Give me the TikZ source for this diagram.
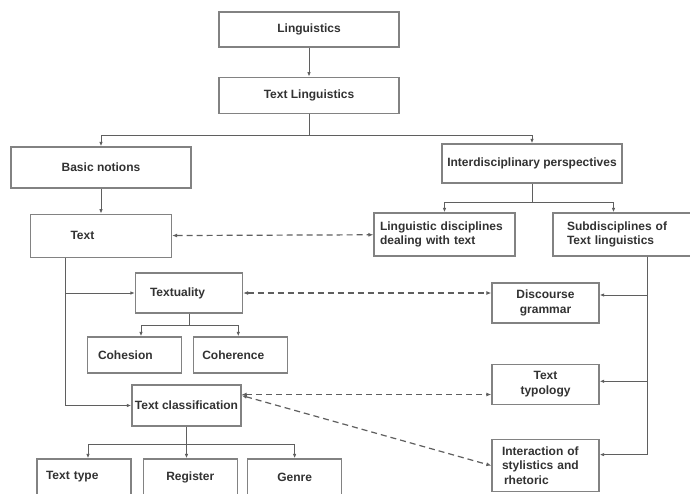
\documentclass[tikz,border=0pt]{standalone}
\usepackage{fontspec}
\setmainfont{Liberation Sans}
\usepackage{tikz}
\usetikzlibrary{arrows.meta,positioning,calc}
\definecolor{lnBox}{RGB}{130,130,130}
\definecolor{lnLine}{RGB}{95,95,95}
\definecolor{lnText}{RGB}{50,50,50}
\newcommand{\lnfont}{\fontsize{12pt}{14.5pt}\selectfont\bfseries}

\begin{document}
\begin{tikzpicture}[x=1pt, y=-1pt,
      box/.style={rectangle, draw=lnBox, line width=1.3pt, align=center,
        inner sep=3pt, font=\lnfont, text=lnText},
      lbox/.style 2 args={box, align=left, text width=#1, inner xsep=#2},
      widebox/.style={box, minimum width=180pt, minimum height=36pt},
      midbox/.style={box, minimum width=141pt, minimum height=43pt},
      smallbox/.style={box, minimum width=107pt, minimum height=40pt},
      tinybox/.style={box, minimum width=94pt, minimum height=36pt},
      arr/.style={-{Latex[length=4.5pt,width=3.5pt]}, draw=lnLine, line width=0.9pt},
      darr/.style={{Latex[length=5pt,width=4pt]}-{Latex[length=5pt,width=4pt]},
        draw=lnLine, line width=1.2pt, dash pattern=on 6pt off 4pt},
    ]
    \useasboundingbox (0,0) rectangle (690,493);
    \fill[white] (0,0) rectangle (690,493);
    \clip (0,0) rectangle (690,493);

    % ---- Top: Linguistics -> Text Linguistics ----
    \node[widebox, minimum height=35pt] (ling) at (309,29.5) {Linguistics};
    \node[widebox, below=29pt of ling] (tl) {Text Linguistics};
    \node[widebox, minimum height=41pt] (basic) at (101,167.5) {Basic notions};
    \node[widebox, minimum height=39pt] (inter) at (532,163.5)
      {Interdisciplinary perspectives};
    \coordinate[below=21pt of tl] (tlfork);

    \draw[arr] (ling) -- (tl);
    \draw[arr] (tl.south) -- (tlfork) -| (basic);
    \draw[arr] (tlfork) -| (inter);

    % ---- Left column: basic notions ----
    \node[midbox, lbox={61pt}{40pt}, below=25pt of basic] (text) {Text};
    \node[smallbox, lbox={78pt}{14pt}, minimum height=40pt] (textuality) at (189,293)
      {Textuality};
    \node[tinybox, lbox={73pt}{10pt}] (cohesion) at (134.5,355) {Cohesion};
    \node[tinybox, lbox={77pt}{8pt}, right=11pt of cohesion] (coherence) {Coherence};
    \node[smallbox, minimum width=109pt, minimum height=41pt] (tc) at (186.5,405.5)
      {Text classification};
    \node[tinybox, lbox={76pt}{9pt}] (texttype) at (84,477) {Text type};
    \node[tinybox, right=11pt of texttype] (register) {Register};
    \node[tinybox, right=9pt of register] (genre) {Genre};

    \draw[arr] (basic) -- (text);
    \coordinate (textdrop) at ([xshift=36pt]text.south west);
    \draw[arr] (textdrop) |- (textuality);
    \draw[arr] (textdrop) |- (tc);
    \coordinate[below=12pt of textuality] (txfork);
    \draw[arr] (textuality.south) -- (txfork) -| ([xshift=6.5pt]cohesion.north);
    \draw[arr] (txfork) -| ([xshift=-2.5pt]coherence.north);
    \coordinate[below=18pt of tc] (tcfork);
    \draw[arr] (tc.south) -- (tcfork) -| ([xshift=4pt]texttype.north);
    \draw[arr] (tcfork) -- (tcfork |- register.north);
    \draw[arr] (tcfork) -| (genre);

    % ---- Right column: interdisciplinary perspectives ----
    \node[midbox, lbox={129pt}{6pt}] (ldt) at (444.5,234.5)
      {Linguistic disciplines\\ dealing with text};
    \node[midbox, lbox={115pt}{14pt}] (sub) at (624.5,234.5)
      {Subdisciplines of\\ Text linguistics};
    \node[smallbox] (dg) at (545.5,303) {Discourse\\ grammar};
    \node[smallbox, below=40pt of dg] (tt) {Text\\ typology};
    \node[smallbox, lbox={87pt}{10pt}, minimum height=52pt, below=34pt of tt] (stylrh)
      {Interaction of\\ stylistics and\\ \hspace*{2pt}rhetoric};

    \coordinate[below=19pt of inter] (interfork);
    \draw[arr] (inter.south) -- (interfork) -| (ldt);
    \draw[arr] (interfork) -| ([xshift=-11pt]sub.north);
    \coordinate (subdrop) at ([xshift=95pt]sub.south west);
    \draw[arr] (subdrop) |- ([yshift=8pt]dg.east);
    \draw[arr] (subdrop) |- ([yshift=3pt]tt.east);
    \draw[arr] (subdrop) |- ([yshift=11pt]stylrh.east);

    % ---- Dashed links between the two columns ----
    \draw[darr] (text) -- (ldt);
    \draw[darr] (textuality.east) -- (textuality.east -| dg.west);
    \draw[darr] ([yshift=11pt]tc.east) -- ([yshift=11pt]tc.east -| tt.west);
    \draw[darr] ([yshift=10pt]tc.east) -- (stylrh.west);
  \end{tikzpicture}
\end{document}
